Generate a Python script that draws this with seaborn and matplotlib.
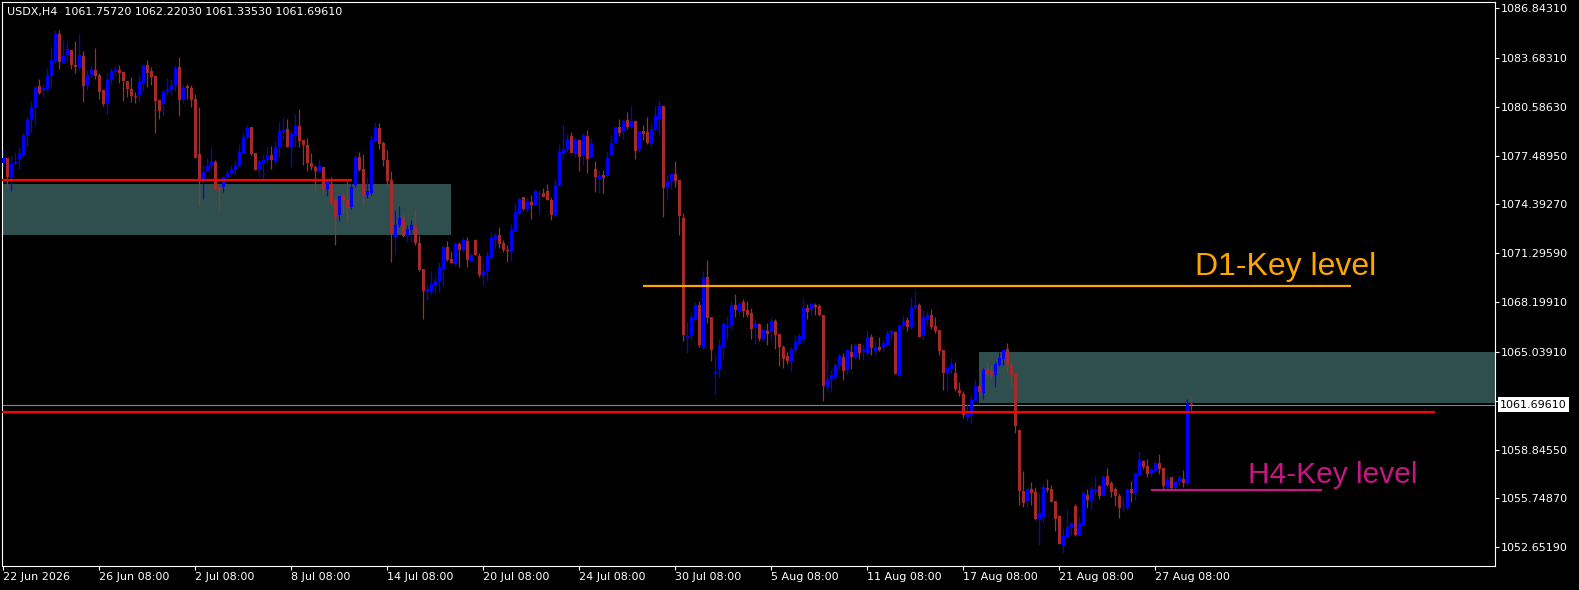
import numpy as np
import pandas as pd
import seaborn as sns
import matplotlib
matplotlib.use("Agg")
from matplotlib import pyplot as plt
from matplotlib.patches import Rectangle

# USDX H4 candles (one entry per bar, left to right)
opens = [1077.01, 1077.33, 1076.12, 1076.95, 1077.26, 1077.52, 1078.72, 1079.80, 1080.50, 1081.89,
         1081.64, 1081.70, 1082.53, 1083.48, 1085.19, 1083.35, 1083.86, 1084.17, 1083.22, 1083.10,
         1083.79, 1081.89, 1082.59, 1082.91, 1082.59, 1081.64, 1080.76, 1082.27, 1082.78, 1082.91,
         1082.78, 1082.21, 1081.70, 1081.26, 1081.32, 1082.08, 1083.22, 1082.84, 1082.53, 1081.01,
         1080.76, 1081.51, 1081.64, 1081.95, 1083.10, 1081.01, 1081.89, 1081.76, 1081.07, 1077.58,
         1075.99, 1076.50, 1076.88, 1077.07, 1075.42, 1075.49, 1076.12, 1076.38, 1076.57, 1076.82,
         1077.64, 1078.66, 1079.30, 1077.64, 1076.57, 1077.01, 1077.20, 1077.52, 1077.14, 1078.02,
         1078.98, 1079.17, 1078.02, 1078.79, 1079.36, 1078.47, 1078.15, 1077.01, 1076.76, 1076.50,
         1076.76, 1075.36, 1075.68, 1074.67, 1073.72, 1074.92, 1074.67, 1074.23, 1075.61, 1077.39,
         1076.63, 1074.98, 1075.11, 1078.41, 1079.23, 1078.28, 1077.20, 1075.93, 1072.32, 1073.08,
         1073.53, 1072.38, 1072.76, 1073.02, 1071.94, 1070.29, 1068.89, 1068.89, 1069.27, 1069.53,
         1070.29, 1071.68, 1070.92, 1070.61, 1071.87, 1071.49, 1072.07, 1070.80, 1072.13, 1071.11,
         1069.91, 1070.16, 1070.99, 1072.19, 1072.45, 1071.94, 1071.49, 1071.43, 1072.70, 1073.78,
         1074.85, 1074.10, 1074.54, 1074.35, 1075.04, 1075.11, 1075.23, 1074.67, 1073.72, 1075.55,
         1077.58, 1077.83, 1078.72, 1077.58, 1078.47, 1077.45, 1078.72, 1077.39, 1076.63, 1075.99,
         1076.25, 1076.19, 1077.52, 1078.28, 1079.30, 1079.04, 1079.74, 1079.30, 1079.68, 1077.83,
         1079.04, 1078.98, 1078.28, 1079.17, 1079.80, 1080.63, 1075.42, 1075.80, 1076.31, 1075.93,
         1073.53, 1065.92, 1066.11, 1067.06, 1068.01, 1065.34, 1069.78, 1067.25, 1063.70, 1063.95,
         1065.34, 1066.62, 1066.68, 1068.01, 1067.63, 1068.20, 1067.69, 1067.51, 1066.62, 1066.81,
         1065.85, 1066.36, 1066.30, 1067.00, 1066.17, 1065.34, 1064.77, 1064.46, 1065.15, 1065.60,
         1065.85, 1067.82, 1067.69, 1068.01, 1067.95, 1067.38, 1062.81, 1063.31, 1063.44, 1064.14,
         1064.71, 1063.89, 1065.03, 1064.71, 1065.53, 1065.09, 1064.96, 1065.98, 1065.09, 1065.34,
         1065.34, 1065.47, 1066.23, 1066.30, 1063.51, 1066.68, 1067.06, 1066.62, 1067.89, 1068.01,
         1066.11, 1067.12, 1067.38, 1066.68, 1066.42, 1065.15, 1063.70, 1063.95, 1063.70, 1062.62,
         1062.36, 1060.91, 1061.04, 1061.93, 1062.87, 1062.43, 1063.95, 1063.82, 1063.57, 1064.20,
         1064.58, 1065.22, 1064.20, 1063.63, 1060.08, 1056.21, 1055.52, 1056.34, 1056.15, 1054.44,
         1054.57, 1056.40, 1056.34, 1055.59, 1054.63, 1052.79, 1053.30, 1053.87, 1055.27, 1053.43,
         1054.06, 1055.96, 1055.59, 1056.21, 1056.53, 1055.90, 1057.17, 1056.72, 1056.34, 1055.90,
         1055.30, 1055.21, 1056.34, 1056.09, 1057.23, 1058.11, 1057.80, 1057.29, 1057.48, 1057.99,
         1057.67, 1056.47, 1057.10, 1056.40, 1056.78, 1056.97, 1056.72, 1061.76]

highs = [1077.90, 1077.33, 1077.45, 1077.71, 1078.02, 1078.91, 1079.99, 1080.95, 1081.89, 1082.33,
         1082.02, 1083.03, 1084.36, 1085.44, 1085.44, 1084.81, 1084.75, 1084.17, 1084.75, 1085.19,
         1084.11, 1082.91, 1083.22, 1084.30, 1082.72, 1081.64, 1082.72, 1083.03, 1083.22, 1083.22,
         1082.78, 1082.21, 1082.46, 1081.51, 1082.59, 1083.22, 1083.54, 1083.10, 1082.59, 1081.01,
         1081.70, 1082.40, 1082.33, 1083.22, 1083.73, 1082.02, 1082.02, 1081.95, 1081.38, 1080.57,
         1076.88, 1077.33, 1078.02, 1077.20, 1075.42, 1076.19, 1076.63, 1076.88, 1077.14, 1078.21,
         1078.91, 1079.42, 1079.30, 1077.64, 1077.20, 1077.52, 1078.09, 1078.09, 1078.41, 1079.61,
         1079.93, 1079.80, 1079.04, 1080.12, 1080.44, 1078.47, 1078.60, 1077.64, 1076.88, 1077.26,
         1076.76, 1075.93, 1076.12, 1074.73, 1074.92, 1075.23, 1075.87, 1075.74, 1077.52, 1077.71,
         1077.58, 1076.12, 1078.79, 1079.61, 1079.55, 1078.41, 1077.83, 1076.50, 1074.03, 1074.29,
         1073.78, 1073.08, 1073.40, 1074.10, 1072.45, 1070.29, 1069.34, 1070.16, 1069.78, 1070.73,
         1071.81, 1072.07, 1071.43, 1072.00, 1072.00, 1072.32, 1072.32, 1071.30, 1072.19, 1071.30,
         1070.73, 1071.43, 1072.64, 1072.57, 1072.96, 1072.13, 1071.81, 1073.15, 1074.48, 1074.85,
         1074.85, 1074.79, 1074.98, 1075.36, 1075.30, 1075.42, 1075.68, 1074.85, 1075.99, 1078.21,
         1079.49, 1078.85, 1078.98, 1078.66, 1078.53, 1078.91, 1079.10, 1078.60, 1077.14, 1076.57,
         1076.57, 1077.77, 1078.79, 1079.36, 1079.80, 1079.80, 1080.25, 1080.63, 1079.68, 1079.04,
         1079.42, 1079.93, 1079.55, 1080.63, 1081.01, 1080.63, 1076.25, 1076.38, 1077.14, 1075.93,
         1073.85, 1066.93, 1067.57, 1068.20, 1068.27, 1070.16, 1070.86, 1067.25, 1064.90, 1065.85,
         1066.93, 1067.31, 1068.27, 1068.70, 1068.27, 1068.39, 1068.27, 1067.82, 1067.06, 1066.87,
         1066.49, 1066.87, 1067.25, 1067.12, 1066.17, 1065.47, 1065.03, 1065.34, 1066.11, 1066.23,
         1068.45, 1068.08, 1068.20, 1068.14, 1068.08, 1067.38, 1064.52, 1063.89, 1064.33, 1064.96,
         1064.96, 1065.22, 1065.53, 1065.60, 1065.60, 1065.53, 1066.42, 1066.17, 1065.79, 1065.98,
         1065.85, 1066.42, 1066.49, 1066.36, 1066.74, 1067.38, 1067.25, 1068.51, 1068.96, 1068.14,
         1067.69, 1067.63, 1067.76, 1067.25, 1066.42, 1065.15, 1064.20, 1064.65, 1064.39, 1063.12,
         1062.55, 1061.74, 1062.30, 1063.31, 1062.93, 1064.01, 1064.46, 1064.20, 1064.39, 1065.03,
         1065.22, 1065.60, 1064.39, 1063.70, 1060.08, 1057.48, 1056.40, 1056.78, 1056.47, 1056.09,
         1056.72, 1056.97, 1056.59, 1055.59, 1054.70, 1053.87, 1055.08, 1054.25, 1055.40, 1054.63,
         1056.21, 1056.34, 1056.53, 1057.17, 1056.59, 1057.23, 1057.67, 1056.85, 1056.47, 1056.09,
         1055.84, 1056.40, 1056.85, 1057.36, 1058.75, 1058.18, 1058.24, 1057.67, 1058.12, 1058.56,
         1057.67, 1057.23, 1057.10, 1056.85, 1057.23, 1057.55, 1062.05, 1062.22]

lows = [1076.76, 1075.49, 1075.23, 1076.88, 1076.63, 1077.33, 1078.02, 1078.98, 1079.42, 1081.38,
        1081.19, 1081.57, 1081.89, 1083.35, 1082.97, 1083.35, 1083.41, 1082.97, 1082.72, 1082.91,
        1080.88, 1081.64, 1082.46, 1082.33, 1081.07, 1080.63, 1080.06, 1082.02, 1082.59, 1082.08,
        1080.95, 1081.19, 1080.88, 1080.82, 1080.95, 1081.57, 1081.83, 1081.95, 1078.91, 1079.80,
        1079.99, 1081.32, 1081.32, 1081.57, 1079.99, 1080.82, 1081.07, 1080.57, 1077.33, 1074.29,
        1074.73, 1076.50, 1076.63, 1075.36, 1073.97, 1075.17, 1076.12, 1076.25, 1076.25, 1076.76,
        1077.58, 1078.53, 1077.52, 1076.57, 1076.12, 1075.93, 1077.01, 1076.63, 1076.88, 1077.39,
        1078.53, 1078.02, 1076.76, 1078.02, 1078.02, 1076.88, 1076.50, 1076.57, 1075.17, 1076.38,
        1074.98, 1074.92, 1074.35, 1071.81, 1073.34, 1073.85, 1073.34, 1074.10, 1075.49, 1076.50,
        1074.35, 1074.79, 1074.98, 1078.34, 1077.90, 1076.82, 1075.61, 1070.73, 1071.30, 1072.96,
        1072.32, 1072.00, 1072.00, 1071.81, 1070.16, 1067.12, 1068.33, 1068.64, 1068.77, 1068.83,
        1069.21, 1070.80, 1070.67, 1070.48, 1070.42, 1071.37, 1070.42, 1070.73, 1071.18, 1069.78,
        1069.27, 1069.53, 1070.92, 1071.56, 1071.62, 1071.37, 1070.73, 1070.80, 1072.70, 1073.78,
        1074.03, 1073.91, 1073.46, 1074.35, 1073.78, 1074.85, 1074.67, 1073.40, 1073.59, 1075.55,
        1077.26, 1077.71, 1077.64, 1077.39, 1076.50, 1076.88, 1076.38, 1077.33, 1075.17, 1075.11,
        1075.11, 1076.12, 1077.52, 1078.28, 1078.72, 1078.53, 1079.17, 1079.30, 1077.26, 1077.71,
        1078.47, 1078.21, 1078.02, 1079.04, 1078.79, 1073.59, 1074.67, 1075.36, 1075.49, 1072.45,
        1065.73, 1064.96, 1065.79, 1067.00, 1065.34, 1065.22, 1066.87, 1064.46, 1062.30, 1063.44,
        1064.65, 1065.85, 1066.42, 1067.25, 1067.38, 1067.25, 1067.25, 1065.85, 1065.53, 1065.73,
        1065.73, 1065.47, 1065.73, 1065.22, 1064.14, 1064.01, 1064.27, 1063.82, 1064.96, 1065.47,
        1065.60, 1067.12, 1067.38, 1067.38, 1067.31, 1061.93, 1062.55, 1062.49, 1063.25, 1063.95,
        1063.25, 1063.57, 1063.95, 1064.58, 1064.58, 1064.52, 1064.84, 1064.84, 1064.84, 1065.09,
        1065.03, 1065.41, 1065.79, 1063.63, 1063.38, 1066.49, 1066.36, 1066.49, 1067.76, 1065.98,
        1065.79, 1066.74, 1066.49, 1066.23, 1064.84, 1062.62, 1062.55, 1063.70, 1062.55, 1062.24,
        1060.85, 1060.66, 1060.53, 1061.93, 1062.24, 1062.05, 1063.51, 1063.38, 1062.81, 1064.14,
        1064.20, 1063.70, 1062.93, 1059.89, 1055.33, 1055.21, 1055.21, 1055.33, 1054.38, 1052.79,
        1054.19, 1056.15, 1055.52, 1053.68, 1052.85, 1052.28, 1053.24, 1053.43, 1053.36, 1053.36,
        1054.00, 1055.14, 1055.08, 1055.96, 1055.71, 1055.90, 1056.53, 1055.83, 1055.27, 1054.51,
        1054.89, 1055.01, 1055.52, 1055.65, 1057.17, 1057.61, 1057.10, 1057.10, 1057.42, 1057.29,
        1056.34, 1056.40, 1056.34, 1056.34, 1056.59, 1056.47, 1056.59, 1061.34]

closes = [1077.33, 1076.12, 1076.95, 1077.07, 1077.64, 1078.79, 1079.74, 1080.57, 1081.83, 1081.45,
          1081.76, 1082.59, 1083.54, 1085.19, 1083.41, 1083.79, 1084.24, 1083.22, 1083.10, 1083.86,
          1081.89, 1082.59, 1082.97, 1082.53, 1081.51, 1080.76, 1082.27, 1082.84, 1082.91, 1082.72,
          1082.21, 1081.70, 1081.26, 1081.19, 1082.14, 1083.22, 1082.72, 1082.46, 1080.95, 1080.31,
          1081.51, 1081.70, 1081.95, 1083.03, 1081.01, 1081.76, 1081.76, 1081.01, 1077.33, 1075.93,
          1076.44, 1076.82, 1077.14, 1075.36, 1075.30, 1076.12, 1076.38, 1076.63, 1076.82, 1077.71,
          1078.66, 1079.23, 1077.58, 1076.57, 1077.14, 1077.20, 1077.52, 1077.20, 1078.02, 1079.04,
          1079.10, 1078.02, 1078.85, 1079.36, 1078.41, 1078.15, 1077.01, 1076.76, 1076.50, 1076.82,
          1075.36, 1075.80, 1074.48, 1073.59, 1074.92, 1074.67, 1074.16, 1075.49, 1077.39, 1076.57,
          1074.92, 1075.23, 1078.47, 1079.30, 1078.21, 1077.20, 1075.87, 1072.57, 1073.08, 1073.53,
          1072.38, 1072.83, 1073.08, 1071.94, 1070.23, 1068.89, 1069.02, 1069.34, 1069.53, 1070.42,
          1071.68, 1070.86, 1070.67, 1071.87, 1071.49, 1072.13, 1070.86, 1071.18, 1071.18, 1069.91,
          1070.16, 1071.11, 1072.26, 1072.45, 1071.87, 1071.49, 1071.43, 1072.76, 1073.91, 1074.73,
          1074.10, 1074.61, 1074.35, 1075.23, 1075.11, 1074.85, 1074.67, 1073.72, 1075.61, 1077.71,
          1077.90, 1078.53, 1077.64, 1078.47, 1077.39, 1078.79, 1077.26, 1078.28, 1076.12, 1076.19,
          1076.06, 1077.33, 1078.28, 1079.30, 1078.91, 1079.68, 1079.30, 1079.68, 1077.77, 1079.04,
          1078.85, 1078.28, 1079.17, 1079.99, 1080.63, 1075.42, 1075.87, 1076.31, 1075.87, 1073.65,
          1066.11, 1066.04, 1067.25, 1068.01, 1065.47, 1069.78, 1067.19, 1065.15, 1063.76, 1065.41,
          1066.81, 1066.68, 1068.01, 1067.69, 1068.08, 1067.63, 1067.38, 1066.49, 1066.81, 1065.85,
          1066.42, 1066.17, 1067.00, 1066.11, 1065.34, 1064.58, 1064.46, 1065.22, 1065.66, 1066.04,
          1067.82, 1067.57, 1068.08, 1067.89, 1067.38, 1062.87, 1063.31, 1063.57, 1064.20, 1064.77,
          1063.82, 1065.15, 1064.71, 1065.47, 1064.96, 1065.22, 1065.98, 1065.28, 1065.34, 1065.15,
          1065.60, 1066.23, 1066.36, 1063.63, 1066.74, 1067.00, 1066.62, 1067.89, 1068.01, 1065.98,
          1067.25, 1067.38, 1066.62, 1066.36, 1065.09, 1063.70, 1064.01, 1064.27, 1062.68, 1062.43,
          1061.04, 1061.10, 1061.99, 1062.87, 1062.49, 1063.89, 1063.63, 1063.57, 1064.27, 1064.65,
          1065.15, 1064.20, 1063.57, 1060.34, 1056.21, 1055.46, 1056.34, 1056.09, 1054.44, 1054.83,
          1056.47, 1056.28, 1055.52, 1054.44, 1052.85, 1053.36, 1053.94, 1054.19, 1053.43, 1054.19,
          1056.09, 1055.65, 1056.34, 1056.34, 1055.90, 1057.10, 1056.59, 1056.15, 1055.90, 1055.14,
          1055.34, 1056.34, 1056.09, 1057.36, 1058.18, 1057.74, 1057.29, 1057.55, 1057.99, 1057.61,
          1056.53, 1056.91, 1056.40, 1056.85, 1057.04, 1056.72, 1061.76, 1061.70]

header = "USDX,H4  1061.75720 1062.22030 1061.33530 1061.69610"
last_price = 1061.69610

price_ticks = [1086.84310, 1083.68310, 1080.58630, 1077.48950, 1074.39270, 1071.29590,
               1068.19910, 1065.03910, 1061.94230, 1058.84550, 1055.74870, 1052.65190]
date_labels = ["22 Jun 2026", "26 Jun 08:00", "2 Jul 08:00", "8 Jul 08:00", "14 Jul 08:00",
               "20 Jul 08:00", "24 Jul 08:00", "30 Jul 08:00", "5 Aug 08:00", "11 Aug 08:00",
               "17 Aug 08:00", "21 Aug 08:00", "27 Aug 08:00"]
date_bars = [0, 24, 48, 72, 96, 120, 144, 168, 192, 216, 240, 264, 288]

# supply / demand zones (bar from, bar to, price low, price high)
zone_start = [-5, 244]
zone_end = [112, 400]
zone_low = [1072.47, 1061.80]
zone_high = [1075.68, 1065.03]

# drawn key levels (price, bar from, bar to)
level_price = [1075.93, 1061.23, 1069.21, 1056.28]
level_start = [-5, -5, 160, 287]
level_end = [87.2, 358, 337, 329.7]
level_color = ["#FF0000", "#FF0000", "#FFA500", "#C71585"]

# text labels, anchored at their baseline
label_text = ["D1-Key level", "H4-Key level"]
label_bar = [298.0, 311.2]
label_price = [1069.93, 1056.75]
label_size = [23, 21.5]
label_color = ["#FFA500", "#C71585"]

sns.set_theme(style="dark", rc={
    "figure.facecolor": "black", "axes.facecolor": "black", "axes.edgecolor": "white",
    "axes.grid": False, "text.color": "white", "xtick.color": "white", "ytick.color": "white",
})
plt.rcParams["font.family"] = ["DejaVu Sans"]

n = min(len(opens), len(highs), len(lows), len(closes))
df = pd.DataFrame({"open": opens[:n], "high": highs[:n], "low": lows[:n], "close": closes[:n]})
df["bar"] = np.arange(n)
df["bull"] = df["close"] >= df["open"]
df["color"] = np.where(df["bull"], "#0000FF", "#A52A2A")
df["body_lo"] = df[["open", "close"]].min(axis=1)
df["body_h"] = (df["close"] - df["open"]).abs().clip(lower=0.06)

fig = plt.figure(figsize=(15.79, 5.90), dpi=100)
ax = fig.add_axes([2 / 1579, 24 / 590, 1493 / 1579, 564 / 590])

for s, e, lo, hi in zip(zone_start, zone_end, zone_low, zone_high):
    ax.add_patch(Rectangle((s, lo), e - s, hi - lo, facecolor="#2F4F4F", edgecolor="none", zorder=1))

ax.axhline(last_price, color="#778899", lw=0.8, zorder=2)

ax.vlines(df["bar"], df["low"], df["high"], colors=df["color"], lw=0.9, zorder=3)
ax.bar(df["bar"], df["body_h"], bottom=df["body_lo"], width=0.75, color=df["color"],
       linewidth=0, zorder=4)

for p, s, e, c in zip(level_price, level_start, level_end, level_color):
    ax.hlines(p, s, e, colors=c, lw=1.6, zorder=5)

for t, b, p, fs, c in zip(label_text, label_bar, label_price, label_size, label_color):
    ax.text(b, p, t, color=c, fontsize=fs, family=["Liberation Sans", "DejaVu Sans"],
            va="baseline", ha="left", zorder=6)

ax.set_xlim(-0.33, 372.9)
ax.set_ylim(1051.47, 1087.22)

ax.yaxis.tick_right()
ax.set_yticks(price_ticks)
ax.set_yticklabels([f"{v:.5f}" for v in price_ticks])
ax.set_xticks(date_bars)
ax.set_xticklabels(date_labels)
for lab in ax.get_xticklabels():
    lab.set_ha("left")
ax.tick_params(axis="y", which="both", left=False, right=True, length=3, width=0.8,
               pad=1.5, labelsize=8, colors="white")
ax.tick_params(axis="x", which="both", bottom=True, length=3, width=0.8, pad=1,
               labelsize=8, colors="white")
for sp in ax.spines.values():
    sp.set_color("white")
    sp.set_linewidth(0.8)

ax.text(1.0035, last_price, f"{last_price:.5f}", transform=ax.get_yaxis_transform(),
        color="black", fontsize=8, va="center", ha="left", clip_on=False, zorder=10,
        bbox=dict(boxstyle="square,pad=0.2", facecolor="white", edgecolor="none"))

fig.text(7 / 1579, 1 - 12 / 590, header, color="white", fontsize=8, va="center", ha="left")

fig.savefig("out.png", dpi=100, facecolor="black")
